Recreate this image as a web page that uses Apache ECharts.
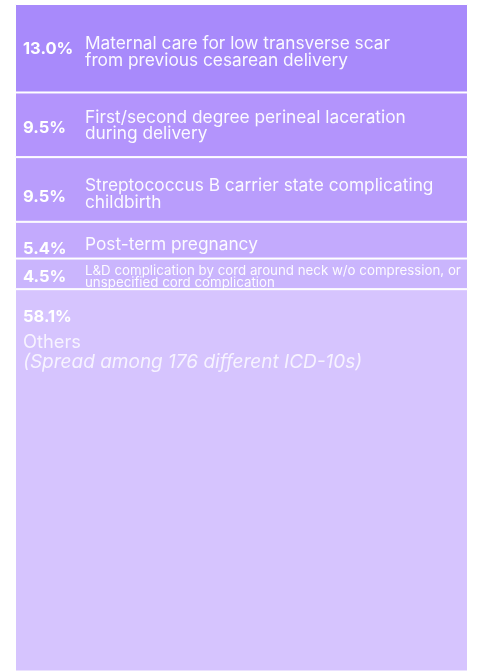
<!DOCTYPE html>
<html>
<head>
<meta charset="utf-8">
<script src="https://cdn.jsdelivr.net/npm/echarts@6/dist/echarts.min.js"></script>
<style>
  html, body { margin: 0; padding: 0; background: #fff; }
  #main { width: 477px; height: 671px; }
</style>
</head>
<body>
<div id="main"></div>
<script>
// share of deliveries per ICD-10 code, top to bottom
var shares = [13.0, 9.5, 9.5, 5.4, 4.5, 58.1];
var names = [
  'Maternal care for low transverse scar\nfrom previous cesarean delivery',
  'First/second degree perineal laceration\nduring delivery',
  'Streptococcus B carrier state complicating\nchildbirth',
  'Post-term pregnancy',
  'L&D complication by cord around neck w/o compression, or\nunspecified cord complication',
  'Others'
];
var othersNote = '(Spread among 176 different ICD-10s)';

var palette = ['#a88afb', '#b394fc', '#b99dfc', '#c3aafd', '#cab5fd', '#d6c4fe'];
var nameSize = [17.3, 17.3, 17.3, 17.3, 13.3, 17.3];
var nameLine = [16.5, 16.5, 16.5, 16.5, 11.5, 16.5];
var pctShift = [1, 3, 8, 9, 3, 0];
var nameShift = [4, 1, 5, 5, 3, 0];

var myChart = echarts.init(document.getElementById('main'));
var series = [];

function each(arr, fn) { for (var i = 0; i < arr.length; i++) fn(i, arr[i]); }

each(shares, function(i, v) {
  var last = i === shares.length - 1;
  // coloured block + percent
  var temp = {};
  temp.name = names[i];
  temp.type = 'bar';
  temp.stack = 'share';
  temp.barWidth = 453;
  temp.barGap = '-100%';
  temp.clip = true;
  temp.data = [v];
  temp.itemStyle = { color: palette[i], borderColor: '#fff', borderWidth: 1 };
  if (last) {
    temp.label = {
      show: true,
      position: 'insideTopLeft',
      distance: 0,
      offset: [8, 13],
      formatter: '{p|' + v.toFixed(1) + '%}\n{o|' + names[i] + '}\n{i|' + othersNote + '}',
      rich: {
        p: { fontFamily: 'Inter', fontWeight: 'bold', fontSize: 16.5, color: '#fff', lineHeight: 30 },
        o: { fontFamily: 'Inter', fontSize: 18.3, color: 'rgba(255,255,255,0.8)', lineHeight: 20 },
        i: { fontFamily: 'Inter', fontStyle: 'italic', fontSize: 19, color: 'rgba(255,255,255,0.8)', lineHeight: 20 }
      }
    };
  } else {
    temp.label = {
      show: true,
      position: 'insideLeft',
      distance: 0,
      offset: [8, pctShift[i]],
      formatter: v.toFixed(1) + '%',
      fontFamily: 'Inter',
      fontWeight: 'bold',
      fontSize: 16.5,
      color: '#fff'
    };
  }
  series.push(temp);
});

// transparent overlay carrying the descriptions
each(shares, function(i, v) {
  var last = i === shares.length - 1;
  var temp = {};
  temp.type = 'bar';
  temp.stack = 'desc';
  temp.barWidth = 453;
  temp.barGap = '-100%';
  temp.clip = true;
  temp.data = [v];
  temp.itemStyle = { color: 'rgba(0,0,0,0)' };
  temp.label = {
    show: !last,
    position: 'insideLeft',
    distance: 0,
    offset: [70, nameShift[i]],
    formatter: names[i],
    overflow: 'none',
    fontFamily: 'Inter',
    fontSize: nameSize[i],
    lineHeight: nameLine[i],
    color: 'rgba(255,255,255,0.95)'
  };
  series.push(temp);
});

var option = {
  animation: false,
  grid: { left: 15, right: 9, top: 4, bottom: 0 },
  xAxis: { type: 'category', data: ['ICD-10'], show: false },
  // the bottom block runs past the picture edge
  yAxis: { type: 'value', min: 0, max: 98, inverse: true, show: false },
  series: series
};
myChart.setOption(option);
</script>
</body>
</html>
